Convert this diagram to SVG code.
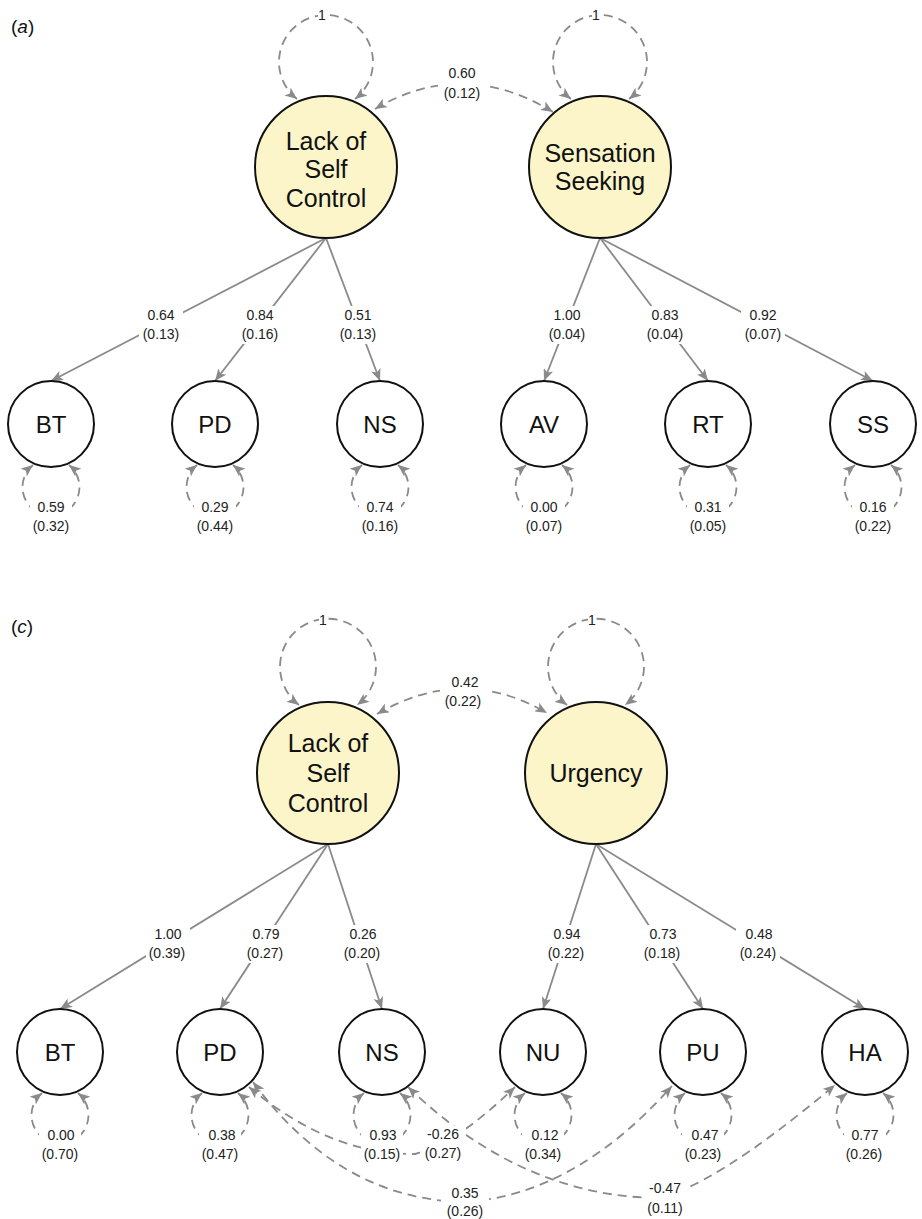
<svg xmlns="http://www.w3.org/2000/svg" width="922" height="1219" viewBox="0 0 922 1219">
<defs>
<style>
.lat{fill:#fbf5c9;stroke:#111;stroke-width:2}
.obs{fill:#fff;stroke:#111;stroke-width:2}
.nt{font-family:"Liberation Sans",Arial,Helvetica,sans-serif;font-size:24px;fill:#111;text-anchor:middle}
.lt{font-family:"Liberation Sans",Arial,Helvetica,sans-serif;font-size:25px;fill:#111;text-anchor:middle}
.e{fill:none;stroke:#8a8a8a;stroke-width:1.8}
.d{stroke-dasharray:9 6}
.one{marker-end:url(#ah)}
.two{marker-start:url(#ah);marker-end:url(#ah)}
.lb{font-family:"Liberation Sans",Arial,Helvetica,sans-serif;font-size:14px;fill:#222;text-anchor:middle}
.bg{fill:#fff}
.ttl{font-family:"Liberation Sans",Arial,Helvetica,sans-serif;font-size:19px;fill:#111}
</style>
<marker id="ah" markerWidth="13" markerHeight="10" refX="12" refY="5" orient="auto-start-reverse" markerUnits="userSpaceOnUse">
<path d="M0,0 L12,5 L0,10 L3,5 z" fill="#8a8a8a"/>
</marker>
</defs>
<rect width="922" height="1219" fill="#fff"/>

<text class="ttl" x="11" y="33">(<tspan font-style="italic">a</tspan>)</text>
<text class="ttl" x="11" y="633">(<tspan font-style="italic">c</tspan>)</text>

<g id="connectors">
<path class="e d two" d="M297 99 A47 47 0 1 1 355 99"/>
<path class="e d two" d="M571 99 A47 47 0 1 1 629 99"/>
<path class="e d two" d="M375 109 Q463 57 553 112"/>
<path class="e one" d="M326 238 L51 381"/>
<path class="e one" d="M326 238 L215 381"/>
<path class="e one" d="M326 238 L380 381"/>
<path class="e one" d="M600 238 L544 381"/>
<path class="e one" d="M600 238 L708 381"/>
<path class="e one" d="M600 238 L873 381"/>
<path class="e d two" d="M33 465 A28.5 28.5 0 1 0 69 465"/>
<path class="e d two" d="M197 465 A28.5 28.5 0 1 0 233 465"/>
<path class="e d two" d="M362 465 A28.5 28.5 0 1 0 398 465"/>
<path class="e d two" d="M526 465 A28.5 28.5 0 1 0 562 465"/>
<path class="e d two" d="M690 465 A28.5 28.5 0 1 0 726 465"/>
<path class="e d two" d="M855 465 A28.5 28.5 0 1 0 891 465"/>

<path class="e d two" d="M299 705 A48 48 0 1 1 357 705"/>
<path class="e d two" d="M567 705 A48 48 0 1 1 625 705"/>
<path class="e d two" d="M377 714 Q463 664 547 713"/>
<path class="e one" d="M328 844 L60 1009"/>
<path class="e one" d="M328 844 L220 1009"/>
<path class="e one" d="M328 844 L382 1009"/>
<path class="e one" d="M596 844 L543 1009"/>
<path class="e one" d="M596 844 L703 1009"/>
<path class="e one" d="M596 844 L865 1009"/>
<path class="e d two" d="M42 1093 A28.5 28.5 0 1 0 78 1093"/>
<path class="e d two" d="M202 1093 A28.5 28.5 0 1 0 238 1093"/>
<path class="e d two" d="M364 1093 A28.5 28.5 0 1 0 400 1093"/>
<path class="e d two" d="M525 1093 A28.5 28.5 0 1 0 561 1093"/>
<path class="e d two" d="M685 1093 A28.5 28.5 0 1 0 721 1093"/>
<path class="e d two" d="M847 1093 A28.5 28.5 0 1 0 883 1093"/>
<path class="e d two" d="M249 1087 Q330 1155 415 1154 Q455 1145 515 1087"/>
<path class="e d two" d="M253 1082 Q340 1200 465 1202 Q575 1195 672 1086"/>
<path class="e d two" d="M408 1087 Q520 1195 655 1198 Q710 1190 835 1085"/>
</g>

<g id="labels">
<rect class="bg" x="318" y="9" width="8" height="13"/><text class="lb" x="322" y="20">1</text>
<rect class="bg" x="592" y="9" width="8" height="13"/><text class="lb" x="596" y="20">1</text>
<rect class="bg" x="438" y="64" width="48" height="39"/><text class="lb" x="462" y="78">0.60</text><text class="lb" x="462" y="98">(0.12)</text>

<rect class="bg" x="139" y="306" width="44" height="38"/><text class="lb" x="161" y="320">0.64</text><text class="lb" x="161" y="339">(0.13)</text>
<rect class="bg" x="238" y="306" width="44" height="38"/><text class="lb" x="260" y="320">0.84</text><text class="lb" x="260" y="339">(0.16)</text>
<rect class="bg" x="336" y="306" width="44" height="38"/><text class="lb" x="358" y="320">0.51</text><text class="lb" x="358" y="339">(0.13)</text>
<rect class="bg" x="545" y="306" width="44" height="38"/><text class="lb" x="567" y="320">1.00</text><text class="lb" x="567" y="339">(0.04)</text>
<rect class="bg" x="643" y="306" width="44" height="38"/><text class="lb" x="665" y="320">0.83</text><text class="lb" x="665" y="339">(0.04)</text>
<rect class="bg" x="741" y="306" width="44" height="38"/><text class="lb" x="763" y="320">0.92</text><text class="lb" x="763" y="339">(0.07)</text>

<rect class="bg" x="30" y="499" width="42" height="37"/><text class="lb" x="51" y="512">0.59</text><text class="lb" x="51" y="531">(0.32)</text>
<rect class="bg" x="194" y="499" width="42" height="37"/><text class="lb" x="215" y="512">0.29</text><text class="lb" x="215" y="531">(0.44)</text>
<rect class="bg" x="359" y="499" width="42" height="37"/><text class="lb" x="380" y="512">0.74</text><text class="lb" x="380" y="531">(0.16)</text>
<rect class="bg" x="523" y="499" width="42" height="37"/><text class="lb" x="544" y="512">0.00</text><text class="lb" x="544" y="531">(0.07)</text>
<rect class="bg" x="687" y="499" width="42" height="37"/><text class="lb" x="708" y="512">0.31</text><text class="lb" x="708" y="531">(0.05)</text>
<rect class="bg" x="852" y="499" width="42" height="37"/><text class="lb" x="873" y="512">0.16</text><text class="lb" x="873" y="531">(0.22)</text>

<rect class="bg" x="319" y="614" width="8" height="13"/><text class="lb" x="323" y="625">1</text>
<rect class="bg" x="588" y="614" width="8" height="13"/><text class="lb" x="592" y="625">1</text>
<rect class="bg" x="440" y="673" width="48" height="38"/><text class="lb" x="465" y="687">0.42</text><text class="lb" x="463" y="706">(0.22)</text>

<rect class="bg" x="146" y="925" width="44" height="38"/><text class="lb" x="168" y="939">1.00</text><text class="lb" x="167" y="958">(0.39)</text>
<rect class="bg" x="244" y="925" width="44" height="38"/><text class="lb" x="266" y="939">0.79</text><text class="lb" x="265" y="958">(0.27)</text>
<rect class="bg" x="341" y="925" width="44" height="38"/><text class="lb" x="363" y="939">0.26</text><text class="lb" x="362" y="958">(0.20)</text>
<rect class="bg" x="544" y="925" width="44" height="38"/><text class="lb" x="567" y="939">0.94</text><text class="lb" x="566" y="958">(0.22)</text>
<rect class="bg" x="640" y="925" width="44" height="38"/><text class="lb" x="663" y="939">0.73</text><text class="lb" x="662" y="958">(0.18)</text>
<rect class="bg" x="736" y="925" width="44" height="38"/><text class="lb" x="759" y="939">0.48</text><text class="lb" x="758" y="958">(0.24)</text>

<rect class="bg" x="39" y="1127" width="42" height="37"/><text class="lb" x="61" y="1140">0.00</text><text class="lb" x="60" y="1159">(0.70)</text>
<rect class="bg" x="199" y="1127" width="42" height="37"/><text class="lb" x="222" y="1140">0.38</text><text class="lb" x="220" y="1159">(0.47)</text>
<rect class="bg" x="361" y="1127" width="42" height="37"/><text class="lb" x="383" y="1140">0.93</text><text class="lb" x="382" y="1159">(0.15)</text>
<rect class="bg" x="522" y="1127" width="42" height="37"/><text class="lb" x="545" y="1140">0.12</text><text class="lb" x="543" y="1159">(0.34)</text>
<rect class="bg" x="682" y="1127" width="42" height="37"/><text class="lb" x="705" y="1140">0.47</text><text class="lb" x="703" y="1159">(0.23)</text>
<rect class="bg" x="844" y="1127" width="42" height="37"/><text class="lb" x="865" y="1140">0.77</text><text class="lb" x="864" y="1159">(0.26)</text>

<rect class="bg" x="420" y="1126" width="46" height="37"/><text class="lb" x="443" y="1139">-0.26</text><text class="lb" x="443" y="1158">(0.27)</text>
<rect class="bg" x="441" y="1185" width="48" height="34"/><text class="lb" x="465" y="1198">0.35</text><text class="lb" x="465" y="1216">(0.26)</text>
<rect class="bg" x="642" y="1180" width="46" height="37"/><text class="lb" x="665" y="1193">-0.47</text><text class="lb" x="665" y="1213">(0.11)</text>
</g>

<g id="a-lack-self-control"><circle class="lat" cx="326" cy="167" r="71"/><text class="lt" x="326" y="150">Lack of</text><text class="lt" x="326" y="178">Self</text><text class="lt" x="326" y="207">Control</text></g>
<g id="a-sensation-seeking"><circle class="lat" cx="600" cy="167" r="71"/><text class="lt" x="600" y="162">Sensation</text><text class="lt" x="600" y="190">Seeking</text></g>
<g id="a-BT"><circle class="obs" cx="51" cy="424" r="43"/><text class="nt" x="51" y="433">BT</text></g>
<g id="a-PD"><circle class="obs" cx="215" cy="424" r="43"/><text class="nt" x="215" y="433">PD</text></g>
<g id="a-NS"><circle class="obs" cx="380" cy="424" r="43"/><text class="nt" x="380" y="433">NS</text></g>
<g id="a-AV"><circle class="obs" cx="544" cy="424" r="43"/><text class="nt" x="544" y="433">AV</text></g>
<g id="a-RT"><circle class="obs" cx="708" cy="424" r="43"/><text class="nt" x="708" y="433">RT</text></g>
<g id="a-SS"><circle class="obs" cx="873" cy="424" r="43"/><text class="nt" x="873" y="433">SS</text></g>

<g id="c-lack-self-control"><circle class="lat" cx="328" cy="773" r="71"/><text class="lt" x="328" y="752">Lack of</text><text class="lt" x="328" y="782">Self</text><text class="lt" x="328" y="812">Control</text></g>
<g id="c-urgency"><circle class="lat" cx="596" cy="773" r="71"/><text class="lt" x="596" y="782">Urgency</text></g>
<g id="c-BT"><circle class="obs" cx="60" cy="1052" r="43"/><text class="nt" x="60" y="1061">BT</text></g>
<g id="c-PD"><circle class="obs" cx="220" cy="1052" r="43"/><text class="nt" x="220" y="1061">PD</text></g>
<g id="c-NS"><circle class="obs" cx="382" cy="1052" r="43"/><text class="nt" x="382" y="1061">NS</text></g>
<g id="c-NU"><circle class="obs" cx="543" cy="1052" r="43"/><text class="nt" x="543" y="1061">NU</text></g>
<g id="c-PU"><circle class="obs" cx="703" cy="1052" r="43"/><text class="nt" x="703" y="1061">PU</text></g>
<g id="c-HA"><circle class="obs" cx="865" cy="1052" r="43"/><text class="nt" x="865" y="1061">HA</text></g>
</svg>
